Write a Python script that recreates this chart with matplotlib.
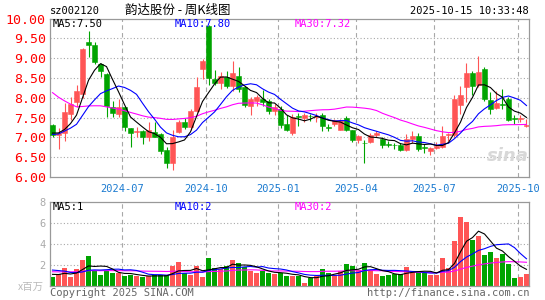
import numpy as np
import pandas as pd
import matplotlib
matplotlib.use("Agg")
import matplotlib.pyplot as plt

# weekly K-line for sz002120, weeks from 2024-04-08 to 2025-10-13
week_start = "2024-04-08"
month_labels = ["2024-07", "2024-10", "2025-01", "2025-04", "2025-07", "2025-10"]
month_weeks = ["2024-07-01", "2024-10-07", "2024-12-30", "2025-03-31", "2025-06-30", "2025-10-06"]

opens = [7.32, 7.06, 7.10, 7.58, 7.90, 8.10, 9.40, 9.33, 8.85, 8.60,
         7.78, 7.58, 7.77, 7.23, 7.14, 7.17, 7.00, 7.14, 7.08, 6.67,
         6.35, 7.13, 7.39, 7.27, 7.68, 8.73, 9.82, 8.47, 8.38, 8.52,
         8.30, 8.55, 8.27, 7.80, 7.93, 7.97, 7.93, 7.67, 7.72, 7.33,
         7.10, 7.55, 7.50, 7.55, 7.52, 7.57, 7.27, 7.33, 7.20, 7.48,
         7.18, 6.93, 6.87, 6.89, 7.06, 6.95, 6.83, 6.82, 6.81, 6.67,
         6.96, 7.03, 6.75, 6.65, 6.73, 6.77, 7.05, 7.06, 7.81, 8.28,
         8.64, 8.33, 8.73, 7.95, 7.75, 7.85, 7.96, 7.48, 7.46, 7.30]
highs = [7.33, 7.25, 7.87, 8.02, 8.33, 9.25, 9.68, 9.40, 8.88, 8.62,
         7.92, 7.96, 7.78, 7.25, 7.27, 7.20, 7.40, 7.39, 7.10, 6.75,
         7.18, 7.45, 7.50, 7.72, 8.52, 8.97, 9.83, 8.70, 8.65, 8.68,
         8.93, 8.78, 8.30, 8.02, 8.07, 8.20, 7.97, 7.85, 7.80, 7.56,
         7.58, 7.62, 7.62, 7.60, 7.62, 7.62, 7.35, 7.47, 7.46, 7.55,
         7.20, 7.06, 6.94, 7.12, 7.17, 7.00, 6.92, 6.87, 6.85, 7.08,
         7.16, 7.10, 6.83, 6.77, 6.88, 7.30, 7.12, 8.08, 8.31, 8.88,
         8.68, 9.06, 8.78, 8.16, 8.18, 8.22, 8.02, 7.56, 7.56, 7.46]
lows = [7.00, 6.70, 6.90, 7.45, 7.77, 8.00, 9.04, 8.85, 8.52, 7.52,
        7.52, 7.52, 7.16, 6.77, 7.02, 6.83, 6.92, 7.00, 6.58, 6.23,
        6.18, 7.10, 7.22, 7.18, 7.65, 8.48, 8.33, 8.32, 8.22, 8.25,
        8.18, 8.14, 7.78, 7.57, 7.80, 7.80, 7.60, 7.57, 7.25, 7.17,
        7.05, 7.30, 7.40, 7.42, 7.38, 7.17, 7.15, 7.30, 7.18, 7.15,
        6.88, 6.85, 6.35, 6.85, 7.02, 6.73, 6.77, 6.70, 6.65, 6.65,
        6.85, 6.65, 6.60, 6.55, 6.70, 6.73, 6.90, 7.02, 7.58, 7.90,
        8.08, 8.28, 7.93, 7.58, 7.72, 7.73, 7.41, 7.35, 7.39, 7.27]
closes = [7.05, 7.12, 7.63, 7.85, 8.17, 9.24, 9.33, 8.90, 8.68, 7.80,
          7.62, 7.77, 7.27, 7.12, 7.16, 7.00, 7.18, 7.02, 6.65, 6.35,
          7.02, 7.39, 7.27, 7.68, 8.28, 8.92, 8.50, 8.37, 8.55, 8.30,
          8.64, 8.22, 7.81, 7.97, 8.03, 7.90, 7.67, 7.78, 7.32, 7.18,
          7.52, 7.52, 7.56, 7.53, 7.55, 7.28, 7.25, 7.43, 7.43, 7.18,
          6.93, 7.03, 6.85, 7.06, 7.12, 6.81, 6.81, 6.80, 6.67, 6.97,
          7.03, 6.71, 6.73, 6.73, 6.78, 7.03, 7.08, 7.96, 8.08, 8.63,
          8.30, 8.66, 7.98, 7.73, 7.87, 7.83, 7.43, 7.46, 7.48, 7.32]
# volume, million shares
volumes = [0.83, 1.11, 1.68, 0.83, 1.59, 2.48, 2.83, 1.43, 1.02, 1.43,
           1.24, 1.24, 0.92, 0.98, 0.95, 0.83, 0.92, 0.98, 0.98, 0.98,
           1.87, 2.25, 1.17, 1.02, 1.87, 0.83, 2.63, 1.68, 1.62, 1.87,
           2.44, 2.19, 1.75, 1.43, 1.21, 1.43, 1.21, 1.11, 1.24, 0.95,
           0.92, 0.95, 0.29, 0.73, 0.92, 1.59, 1.21, 1.05, 1.37, 2.06,
           1.87, 1.49, 2.16, 1.49, 1.11, 0.92, 1.02, 1.11, 1.08, 1.78,
           1.37, 1.37, 1.30, 1.02, 1.02, 2.63, 1.68, 4.25, 6.54, 6.06,
           4.38, 4.73, 2.92, 3.21, 2.63, 3.02, 2.06, 0.73, 0.86, 1.11]

# earlier weeks (off-chart), estimated so the MA lines start where the picture shows them
hist_close = [10.6, 10.4, 10.3, 10.2, 9.0, 8.9, 8.8, 8.7, 8.6, 8.5,
              8.6, 8.5, 8.4, 8.4, 8.3, 8.2, 7.4, 7.2, 7.1, 7.1,
              7.0, 6.9, 7.1, 7.2, 7.0, 7.1, 7.2, 7.1, 7.1]
hist_vol = [1.5, 1.3, 1.1, 1.2, 1.4, 1.0, 1.2, 1.3, 1.1, 1.4,
            1.2, 1.3, 1.0, 1.2, 1.5, 1.3, 1.1, 1.2, 1.4, 1.3,
            1.6, 2.2, 2.1, 1.8, 1.8, 1.2, 1.1, 1.15, 1.12]

price_legend = ["MA5:7.50", "MA10:7.80", "MA30:7.32"]
vol_legend = ["MA5:1", "MA10:2", "MA30:2"]

O, H, L, C = map(np.array, (opens, highs, lows, closes))
V = np.array(volumes)
x = np.arange(len(C))
weeks = pd.date_range(week_start, periods=len(C), freq="7D")
tick_x = np.array([weeks.get_loc(pd.Timestamp(d)) for d in month_weeks]) - 0.35

close_all = pd.Series(hist_close + closes)
vol_all = pd.Series(hist_vol + volumes)
k = len(hist_close)
ma_c = {n: close_all.rolling(n).mean().values[k:] for n in (5, 10, 30)}
ma_v = {n: vol_all.rolling(n).mean().values[k:] for n in (5, 10, 30)}

UP, DOWN = "#ff5555", "#00a400"
cols = np.where(C >= O, UP, DOWN)
ma_cols = {5: "black", 10: "#0000ff", 30: "#ff00ff"}
GRID = "#a8a8a8"
MONO = "DejaVu Sans Mono"

W, Hpx = 545, 300
fig = plt.figure(figsize=(5.45, 3.0), dpi=100)


def box(l, t, r, b):
    return [l / W, 1 - b / Hpx, (r - l) / W, (b - t) / Hpx]


def ftext(px, py, s, **kw):
    fig.text(px / W, 1 - py / Hpx, s, va="center", **kw)


ax = fig.add_axes(box(50, 18.7, 529, 177))
axv = fig.add_axes(box(50, 201.7, 529, 285.7))

for a in (ax, axv):
    a.set_xlim(-0.42, len(C) - 0.58)
    for s in a.spines.values():
        s.set_color("#999999")
        s.set_linewidth(0.9)
    for tx in tick_x:
        a.axvline(tx, color=GRID, lw=0.8, ls=(0, (4, 3)), zorder=0)

# price panel
for y in np.arange(6.5, 10.0, 0.5):
    ax.axhline(y, color=GRID, lw=0.8, ls=(0, (1, 2)), zorder=0)
ax.vlines(x, L, H, colors=cols, lw=0.8, zorder=2)
ax.bar(x, np.maximum(np.abs(C - O), 0.012), bottom=np.minimum(O, C), width=0.75,
       color=cols, edgecolor=cols, linewidth=0.4, zorder=3)
for n in (30, 10, 5):
    ax.plot(x, ma_c[n], color=ma_cols[n], lw=0.8, zorder=4)
ax.set_ylim(6.0, 10.0)
yt = np.arange(6.0, 10.01, 0.5)
ax.set_yticks(yt)
ax.set_yticklabels([f"{v:.2f}" for v in yt], family=MONO, fontsize=9.5, color="#ff0000")
ax.set_xticks(tick_x)
ax.set_xticklabels(month_labels, family=MONO, fontsize=7.5, color="#1a7ad0")
ax.tick_params(length=0, pad=3)
ax.tick_params(axis="x", pad=5)
ax.text(0.955, 0.13, "sina", transform=ax.transAxes, ha="center", va="center",
        fontsize=13, fontweight="bold", style="italic", color="#d8d8d8", zorder=1)

# volume panel
for y in (2, 4, 6):
    axv.axhline(y, color=GRID, lw=0.8, ls=(0, (1, 2)), zorder=0)
axv.bar(x, V, width=0.82, color=cols, zorder=2)
for n in (30, 10, 5):
    axv.plot(x, ma_v[n], color=ma_cols[n], lw=0.8, zorder=4)
axv.set_ylim(0, 8)
axv.set_yticks([2, 4, 6, 8])
axv.set_yticklabels(["2", "4", "6", "8"], family=MONO, fontsize=7.5, color="#aaaaaa")
axv.set_xticks([])
axv.tick_params(length=0, pad=3)

# texts
ftext(50, 11, "sz002120", family=MONO, fontsize=7.5, color="black")
ftext(178, 10, "韵达股份 - 周K线图", family=["Noto Sans CJK SC", "DejaVu Sans"],
      fontsize=9, color="black", ha="center")
ftext(529, 11, "2025-10-15 10:33:48", family=MONO, fontsize=7.5, color="black", ha="right")
for (px, col), s in zip([(53, "black"), (175, "#0000ff"), (295, "#ff00ff")], price_legend):
    ftext(px, 24, s, family=MONO, fontsize=7.5, color=col)
for (px, col), s in zip([(53, "black"), (175, "#0000ff"), (295, "#ff00ff")], vol_legend):
    ftext(px, 207, s, family=MONO, fontsize=7.5, color=col)
ftext(44, 287, "x百万", family=["Noto Sans CJK SC", "DejaVu Sans"], fontsize=7.5,
      color="#bbbbbb", ha="right")
ftext(50, 293, "Copyright 2025 SINA.COM", family=MONO, fontsize=7.5, color="#666666")
ftext(529, 293, "http://finance.sina.com.cn", family=MONO, fontsize=7.5, color="#666666",
      ha="right")

fig.savefig("out.png", dpi=100)
